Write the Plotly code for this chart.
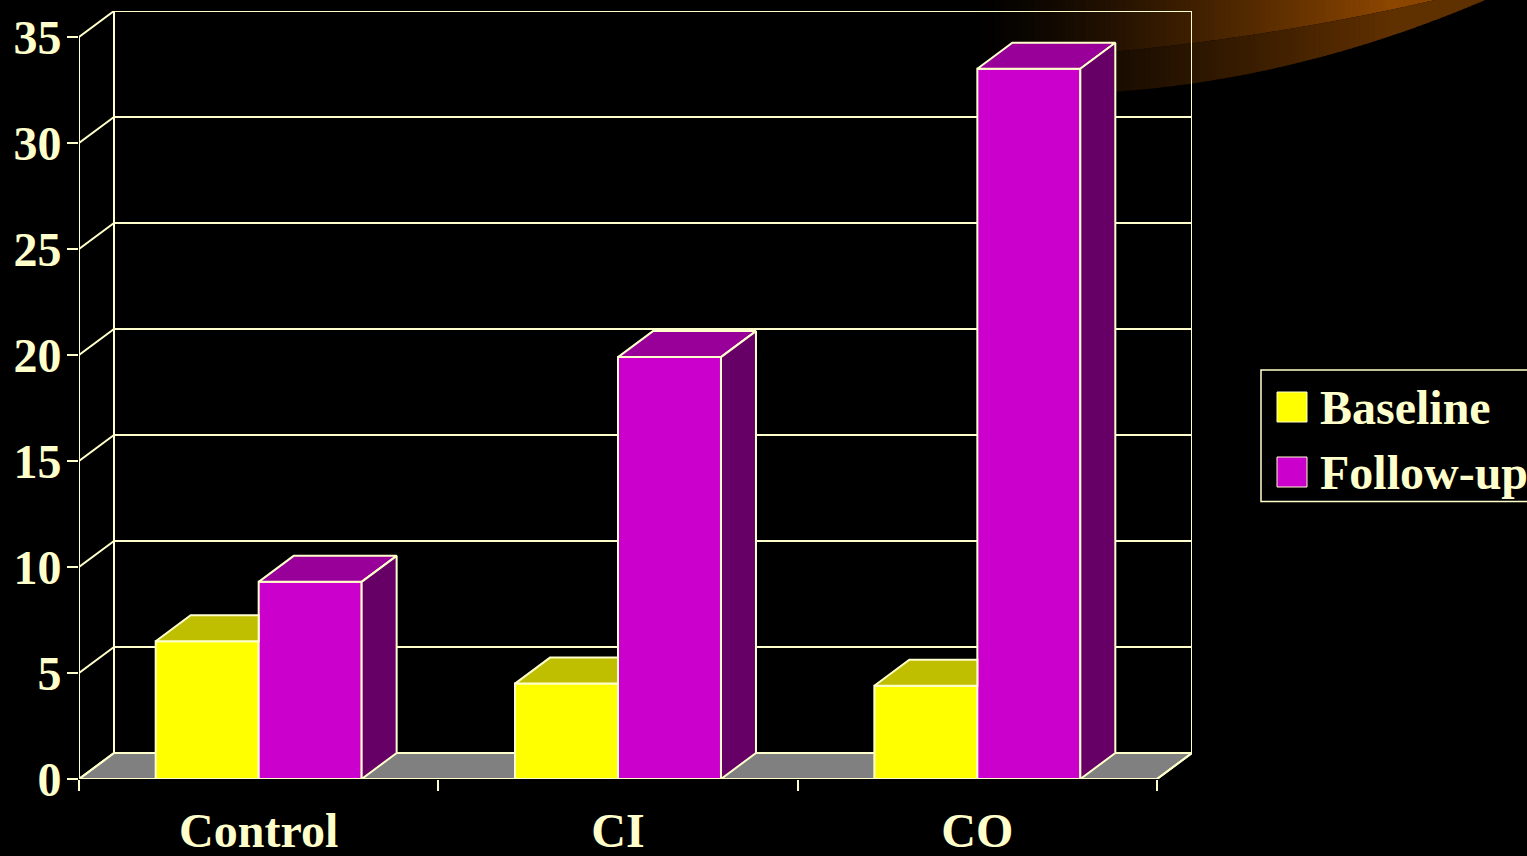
import numpy as np
import plotly.graph_objects as go

# ---- data -------------------------------------------------------------
CATEGORIES = ["Control", "CI", "CO"]
BASELINE = [6.5, 4.5, 4.4]
FOLLOW_UP = [9.3, 19.9, 33.5]
SERIES_NAMES = ["Baseline", "Follow-up"]
Y_TICKS = [0, 5, 10, 15, 20, 25, 30, 35]

# ---- style ------------------------------------------------------------
W, H = 1527, 856
M_L, M_R, M_T, M_B = 79, 335, 11, 77
PLOT_W, PLOT_H = W - M_L - M_R, H - M_T - M_B

EDGE = "#FFFFCC"
FONT = dict(family="Liberation Serif, Times New Roman, serif", size=48,
            color=EDGE, weight="bold")
FRONT = ["#FFFF00", "#CC00CC"]
TOP = ["#BFBF00", "#990099"]
SIDE = ["#7F7F00", "#660066"]
FLOOR = "#808080"

Y_MAX = max(Y_TICKS)
X_MIN, X_MAX = -0.5, len(CATEGORIES) - 0.5
BAR_W = 0.2866                       # width of one bar, in category units
OFFSETS = [-BAR_W, 0.0]              # baseline left of centre, follow-up right

# depth of the pseudo-3D box, expressed in axis units
DX = 35 / (PLOT_W / (X_MAX - X_MIN + 35 / 359.33))
DY = 26 / 21.2

fig = go.Figure()

series = [BASELINE, FOLLOW_UP]
xs = list(range(len(CATEGORIES)))

# front faces of the columns
for s, (name, vals) in enumerate(zip(SERIES_NAMES, series)):
    fig.add_trace(go.Bar(
        x=xs, y=vals, name=name, width=BAR_W, offset=OFFSETS[s],
        marker=dict(color=FRONT[s], line=dict(color=EDGE, width=2)),
        showlegend=False, hoverinfo="x+y+name",
    ))


def face(pts, color):
    px = [p[0] for p in pts] + [pts[0][0]]
    py = [p[1] for p in pts] + [pts[0][1]]
    fig.add_trace(go.Scatter(
        x=px, y=py, mode="lines", fill="toself", fillcolor=color,
        line=dict(color=EDGE, width=2), hoverinfo="skip", showlegend=False,
    ))


# top and side faces, drawn so that a taller neighbour hides what it covers
for i in xs:
    for s, vals in enumerate(series):
        h = vals[i]
        x0 = i + OFFSETS[s]
        x1 = x0 + BAR_W
        nxt = series[s + 1][i] if s + 1 < len(series) else None
        hidden = nxt is not None and nxt >= h + DY
        if hidden:
            face([(x0, h), (x1, h), (x1, h + DY), (x0 + DX, h + DY)], TOP[s])
        else:
            face([(x0, h), (x1, h), (x1 + DX, h + DY), (x0 + DX, h + DY)], TOP[s])
            face([(x1, 0), (x1 + DX, DY), (x1 + DX, h + DY), (x1, h)], SIDE[s])

# category labels live on a second x axis so they sit between the ticks
fig.add_trace(go.Scatter(x=xs, y=[None] * len(xs), xaxis="x2", mode="none",
                         hoverinfo="skip", showlegend=False))

shapes = []


def to_paper(px, py):
    return (px - M_L) / PLOT_W, (H - M_B - py) / PLOT_H


# warm swoosh in the top-right corner of the slide; vertical strips
# approximate its horizontal colour gradient
UPPER_EDGE = [(960, 61), (1100, 52), (1217, 40), (1317, 25), (1433, 0)]
LOWER_EDGE = [(960, 93), (1083, 90), (1183, 83), (1283, 68), (1383, 43),
              (1478, 0)]
up_fit = np.polyfit(*zip(*UPPER_EDGE), 2)
lo_fit = np.polyfit(*zip(*LOWER_EDGE), 2)


def warm(x, k):
    t = np.clip((x - 975) / (1390 - 975), 0, 1) ** 1.25
    return "rgb(%d,%d,0)" % (round(140 * t * k), round(70 * t * k))


step = 5
for xa in range(930, 1520, step):
    xb = xa + step + 1
    seg = np.linspace(xa, xb, 4)
    top_u = np.full(4, -15.0)
    bot_u = np.polyval(up_fit, seg)
    bot_l = np.polyval(lo_fit, seg)
    for top, bot, k in ((top_u, bot_u, 1.0), (np.maximum(bot_u, -15), bot_l, 0.68)):
        if max(bot) <= 0:
            continue
        pts = [to_paper(x, y) for x, y in zip(seg, top)] + \
              [to_paper(x, y) for x, y in zip(seg[::-1], bot[::-1])]
        path = "M" + "L".join("%.5f,%.5f" % p for p in pts) + "Z"
        shapes.append(dict(type="path", path=path, xref="paper", yref="paper",
                           fillcolor=warm((xa + xb) / 2, k),
                           line=dict(width=0), layer="below"))

# floor
shapes.append(dict(
    type="path", xref="x", yref="y", layer="below", fillcolor=FLOOR,
    line=dict(color=EDGE, width=2),
    path="M%f,0L%f,0L%f,%fL%f,%fZ" % (X_MIN, X_MAX, X_MAX + DX, DY, X_MIN + DX, DY),
))


def line(x0, y0, x1, y1):
    shapes.append(dict(type="line", xref="x", yref="y", x0=x0, y0=y0, x1=x1,
                       y1=y1, line=dict(color=EDGE, width=2), layer="below"))


# back wall gridlines and side-wall diagonals
for v in Y_TICKS:
    line(X_MIN, v, X_MIN + DX, v + DY)
    line(X_MIN + DX, v + DY, X_MAX + DX, v + DY)
line(X_MIN + DX, DY, X_MIN + DX, Y_MAX + DY)
line(X_MAX + DX, DY, X_MAX + DX, Y_MAX + DY)
# front axes and floor corner
line(X_MIN, 0, X_MIN, Y_MAX)
line(X_MIN, 0, X_MAX, 0)
line(X_MAX, 0, X_MAX + DX, DY)

# legend box with swatches
lb_x0, lb_y1 = to_paper(1261, 370)
lb_x1, lb_y0 = to_paper(1540, 501.5)
shapes.append(dict(type="rect", xref="paper", yref="paper", x0=lb_x0, x1=lb_x1,
                   y0=lb_y0, y1=lb_y1, line=dict(color=EDGE, width=1.5),
                   fillcolor="rgba(0,0,0,0)"))
annotations = []
for s, (name, top_px) in enumerate(zip(SERIES_NAMES, [392, 457])):
    sx0, sy1 = to_paper(1277, top_px)
    sx1, sy0 = to_paper(1307, top_px + 30)
    shapes.append(dict(type="rect", xref="paper", yref="paper", x0=sx0, x1=sx1,
                       y0=sy0, y1=sy1, fillcolor=FRONT[s],
                       line=dict(color=EDGE, width=1)))
    tx, ty = to_paper(1318, top_px + 15)
    annotations.append(dict(text=name, xref="paper", yref="paper", x=tx, y=ty,
                            xanchor="left", yanchor="middle", showarrow=False,
                            font=FONT))

fig.update_layout(
    width=W, height=H, autosize=False,
    margin=dict(l=M_L, r=M_R, t=M_T, b=M_B, pad=0, autoexpand=False),
    paper_bgcolor="black", plot_bgcolor="rgba(0,0,0,0)",
    barmode="overlay", showlegend=False,
    shapes=shapes, annotations=annotations,
    xaxis=dict(range=[X_MIN, X_MAX + DX], tickvals=[-0.5, 0.5, 1.5, 2.5],
               showticklabels=False, ticks="outside", ticklen=11, tickwidth=2,
               tickcolor=EDGE, showgrid=False, zeroline=False, showline=False,
               fixedrange=True, automargin=False),
    xaxis2=dict(range=[X_MIN, X_MAX + DX], overlaying="x", anchor="y",
                side="bottom", tickvals=xs, ticktext=CATEGORIES, ticks="",
                tickfont=FONT, ticklabelstandoff=19, showgrid=False,
                zeroline=False, showline=False, fixedrange=True,
                automargin=False),
    yaxis=dict(range=[0, Y_MAX + DY], tickvals=Y_TICKS, ticks="outside",
               ticklen=11, tickwidth=2, tickcolor=EDGE, tickfont=FONT,
               ticklabelstandoff=-4, showgrid=False, zeroline=False,
               showline=False, fixedrange=True, automargin=False),
)

fig.write_html("out.html")
